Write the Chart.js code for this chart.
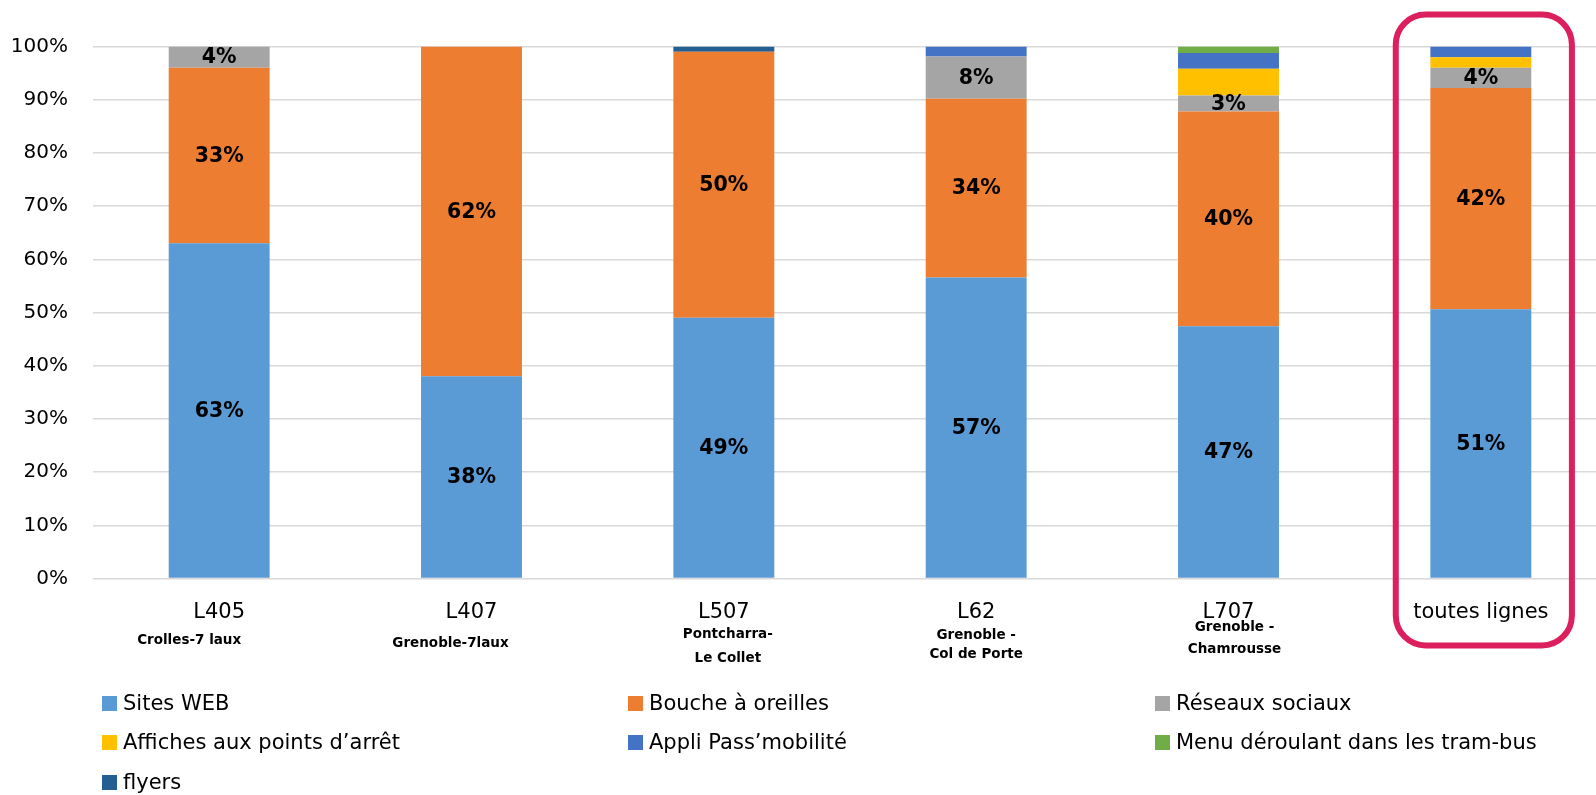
<!DOCTYPE html>
<html>
<head>
<meta charset="utf-8">
<script src="https://cdn.jsdelivr.net/npm/chart.js@4.4.1/dist/chart.umd.min.js"></script>
<style>
html, body { margin: 0; padding: 0; background: #fff; overflow: hidden; }
#wrap { position: relative; width: 1596px; height: 795px; overflow: hidden; }
#c { position: absolute; left: 0; top: 0; }
#legend { position: absolute; left: 0; top: 0; font-family: "DejaVu Sans"; font-size: 21px; color: #000; }
.item { position: absolute; height: 30px; display: flex; align-items: center; white-space: nowrap; }
.box { width: 15px; height: 15px; margin-right: 6px; flex: none; }
</style>
</head>
<body>
<div id="wrap">
  <canvas id="c" width="1610" height="795"></canvas>
  <div id="legend"></div>
</div>
<script>
// --- data (percent of answers) ---
const lines = ['L405', 'L407', 'L507', 'L62', 'L707', 'toutes lignes'];
const lineNames = [['Crolles-7 laux'], ['Grenoble-7laux'], ['Pontcharra-', 'Le Collet'], ['Grenoble -', 'Col de Porte'], ['Grenoble -', 'Chamrousse'], []];

const sitesWeb  = [63, 38, 49, 56.6, 47.4, 50.6];
const bouche    = [33, 62, 50, 33.6, 40.4, 41.6];
const reseaux   = [4, 0, 0, 7.9, 3, 3.8];
const affiches  = [0, 0, 0, 0, 5, 2];
const appli     = [0, 0, 0, 1.9, 3, 2];
const menuTram  = [0, 0, 0, 0, 1.2, 0];
const flyers    = [0, 0, 1, 0, 0, 0];

const yTicks = [0, 10, 20, 30, 40, 50, 60, 70, 80, 90, 100];

const series = [
    { label: 'Sites WEB', data: sitesWeb, color: '#5B9BD5' },
    { label: 'Bouche à oreilles', data: bouche, color: '#ED7D31' },
    { label: 'Réseaux sociaux', data: reseaux, color: '#A5A5A5' },
    { label: 'Affiches aux points d’arrêt', data: affiches, color: '#FFC000' },
    { label: 'Appli Pass’mobilité', data: appli, color: '#4472C4' },
    { label: 'Menu déroulant dans les tram-bus', data: menuTram, color: '#70AD47' },
    { label: 'flyers', data: flyers, color: '#255E91' }
];

// only the three first series carry value labels
const labelledSeries = 3;

// value labels in the middle of each segment
const segmentLabels = {
    id: 'segmentLabels',
    afterDatasetsDraw(chart) {
        const ctx = chart.ctx;
        ctx.save();
        ctx.font = 'bold 20.5px "DejaVu Sans"';
        ctx.fillStyle = '#000';
        ctx.textAlign = 'center';
        ctx.textBaseline = 'middle';
        for (let d = 0; d < labelledSeries; d++) {
            const meta = chart.getDatasetMeta(d);
            meta.data.forEach((bar, i) => {
                const v = chart.data.datasets[d].data[i];
                if (!v) return;
                ctx.fillText(Math.round(v) + '%', bar.x, (bar.y + bar.base) / 2 + 1);
            });
        }
        ctx.restore();
    }
};

// small bold line names under the codes
const subNames = {
    id: 'subNames',
    afterDraw(chart) {
        const ctx = chart.ctx;
        const xs = chart.scales.x;
        // [dx, y of first line, line step]
        const place = [[-30, 640, 0], [-21, 643, 0], [4, 634, 24], [0, 635, 19], [6, 627, 22], [0, 0, 0]];
        ctx.save();
        ctx.font = 'bold 13.5px "DejaVu Sans"';
        ctx.fillStyle = '#000';
        ctx.textAlign = 'center';
        ctx.textBaseline = 'middle';
        lineNames.forEach((names, i) => {
            const x = xs.getPixelForValue(i) + place[i][0];
            names.forEach((t, k) => ctx.fillText(t, x, place[i][1] + k * place[i][2]));
        });
        ctx.restore();
    }
};

// red rounded frame around the "toutes lignes" column
const frame = {
    id: 'frame',
    afterDraw(chart) {
        const ctx = chart.ctx;
        const xs = chart.scales.x;
        const area = chart.chartArea;
        const step = xs.getPixelForValue(1) - xs.getPixelForValue(0);
        const cx = xs.getPixelForValue(lines.length - 1) + 3;
        const half = step * 0.349;
        const top = area.top - 32;
        const bottom = area.bottom + 67;
        ctx.save();
        ctx.strokeStyle = '#DC1F5D';
        ctx.lineWidth = 6;
        ctx.beginPath();
        ctx.roundRect(cx - half, top, half * 2, bottom - top, 30);
        ctx.stroke();
        ctx.restore();
    }
};

const chart = new Chart(document.getElementById('c'), {
    type: 'bar',
    data: {
        labels: lines,
        datasets: series.map(s => ({
            label: s.label,
            data: s.data,
            backgroundColor: s.color,
            borderWidth: 0,
            categoryPercentage: 1,
            barPercentage: 0.4
        }))
    },
    options: {
        responsive: false,
        animation: false,
        layout: { padding: { top: 46.5, right: 3, bottom: 116.5, left: 0 } },
        plugins: { legend: { display: false }, tooltip: { enabled: false } },
        scales: {
            x: {
                stacked: true,
                grid: { display: false, drawTicks: false },
                border: { display: false },
                ticks: { color: '#000', font: { family: 'DejaVu Sans', size: 21 }, padding: 21 },
                afterFit(scale) { scale.height = 100; }
            },
            y: {
                stacked: true,
                min: 0,
                max: 100,
                afterBuildTicks(scale) { scale.ticks = yTicks.map(v => ({ value: v })); },
                grid: { color: '#D9D9D9', lineWidth: 1.5, drawTicks: false },
                border: { display: false },
                ticks: {
                    color: '#000',
                    font: { family: 'DejaVu Sans', size: 20 },
                    padding: 25,
                    callback: v => v + '%'
                },
                afterFit(scale) { scale.width = 93; }
            }
        }
    },
    plugins: [segmentLabels, subNames, frame]
});

// legend in three columns, as in the picture
const legendCols = [102, 628, 1155];
const legendRows = [703, 742, 782];
const legendEl = document.getElementById('legend');
series.forEach((s, i) => {
    const item = document.createElement('div');
    item.className = 'item';
    item.style.left = legendCols[i % 3] + 'px';
    item.style.top = (legendRows[Math.floor(i / 3)] - 15) + 'px';
    const box = document.createElement('span');
    box.className = 'box';
    box.style.background = s.color;
    const txt = document.createElement('span');
    txt.textContent = s.label;
    item.appendChild(box);
    item.appendChild(txt);
    legendEl.appendChild(item);
});
</script>
</body>
</html>
